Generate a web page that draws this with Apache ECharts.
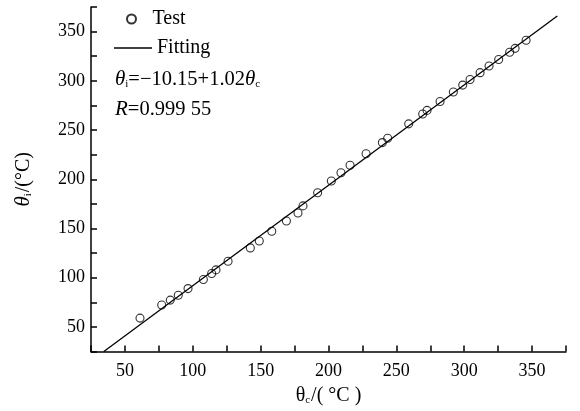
<!DOCTYPE html>
<html><head><meta charset="utf-8">
<script src="https://cdn.jsdelivr.net/npm/echarts@6/dist/echarts.min.js"></script>
<style>html,body{margin:0;padding:0;background:#fff}#c{width:580px;height:411px}</style>
</head><body><div id="c"></div>
<script>
var testX = [61.1, 77.1, 83.4, 89.3, 96.5, 107.8, 113.9, 117.1, 126, 142.4, 149, 158.2, 169, 177.5, 181.2, 192, 202.1, 209.2, 215.9, 227.7, 239.7, 243.6, 259.1, 269.4, 272.6, 282.2, 292, 298.9, 304.3, 311.7, 318.3, 325.4, 333.5, 337.5, 345.6];
var testY = [59, 72.3, 77.3, 82.3, 89, 98.3, 104.3, 108, 116.7, 130.3, 137.3, 147.3, 157.7, 165.7, 173, 186.3, 198.3, 206.7, 214.3, 226, 237.3, 241.7, 256.3, 266.3, 270, 279, 288.7, 295.7, 301.3, 308.3, 315, 321.7, 329, 333, 341.3];
var fitIntercept = -10.15;
var fitSlope = 1.02;
var fitRangeX = [34.46, 368.6];
var tickLabels = [50, 100, 150, 200, 250, 300, 350];

var F = 'Liberation Serif';
var testData = testX.map(function (x, i) { return [x, testY[i]]; });
var fitData = fitRangeX.map(function (x) { return [x, fitIntercept + fitSlope * x]; });
function fmt(v) { return tickLabels.indexOf(v) >= 0 ? String(v) : ''; }

var axisCommon = {
  min: 25, max: 375, interval: 25,
  splitLine: { show: false },
  axisLine: { lineStyle: { color: '#000', width: 1.5 } },
  axisTick: { inside: true, length: 6, lineStyle: { color: '#000', width: 1.5 } },
  axisLabel: { color: '#000', fontFamily: F, fontSize: 18, formatter: fmt }
};

var chart = echarts.init(document.getElementById('c'), null, { renderer: 'canvas' });
chart.setOption({
  animation: false,
  backgroundColor: '#fff',
  grid: { left: 91, right: 14, top: 7, bottom: 54, containLabel: false },
  xAxis: Object.assign({}, axisCommon, {
    type: 'value',
    name: '{t|θ}{s|c}{t|/( °C )}',
    nameLocation: 'middle', nameGap: 32,
    nameTextStyle: { rich: {
      t: { fontFamily: F, fontSize: 20, color: '#000' },
      s: { fontFamily: F, fontSize: 11, color: '#000', verticalAlign: 'bottom', padding: [10, 1, 0, 0] }
    } },
    axisLabel: Object.assign({}, axisCommon.axisLabel, { margin: 11 })
  }),
  yAxis: Object.assign({}, axisCommon, {
    type: 'value',
    name: '{i|θ}{s|i}{t|/(°C)}',
    nameLocation: 'middle', nameGap: 57,
    nameTextStyle: { rich: {
      i: { fontFamily: F, fontSize: 21, fontStyle: 'italic', color: '#000' },
      t: { fontFamily: F, fontSize: 20, color: '#000' },
      s: { fontFamily: F, fontSize: 11, color: '#000', verticalAlign: 'bottom', padding: [10, 1, 0, 0] }
    } },
    axisLabel: Object.assign({}, axisCommon.axisLabel, { margin: 6, padding: [3, 0, 0, 0] })
  }),
  legend: [
    { data: ['Test'], left: 126, top: 9, itemWidth: 32, itemHeight: 9, padding: 0,
      textStyle: { fontFamily: F, fontSize: 20, color: '#000' } },
    { data: [{ name: 'Fitting', icon: 'rect' }], left: 114, top: 38, itemWidth: 38, itemHeight: 1.4, padding: 0,
      textStyle: { fontFamily: F, fontSize: 20, color: '#000' } }
  ],
  graphic: [
    { type: 'text', left: 115, top: 69, style: {
      text: '{i|θ}{s|i}{t|=−10.15+1.02}{i|θ}{s|c}',
      rich: {
        i: { fontFamily: F, fontSize: 21, fontStyle: 'italic', fill: '#000' },
        t: { fontFamily: F, fontSize: 20.5, fill: '#000' },
        s: { fontFamily: F, fontSize: 11, fill: '#000', verticalAlign: 'bottom', padding: [10, 0, 0, 0] }
      } } },
    { type: 'text', left: 115, top: 99, style: {
      text: '{i|R}{t|=0.999 55}',
      rich: {
        i: { fontFamily: F, fontSize: 21, fontStyle: 'italic', fill: '#000' },
        t: { fontFamily: F, fontSize: 20.5, fill: '#000' }
      } } }
  ],
  series: [
    { name: 'Fitting', type: 'line', data: fitData, symbol: 'none', showSymbol: false,
      lineStyle: { color: '#000', width: 1.3 }, itemStyle: { color: '#000' }, z: 2 },
    { name: 'Test', type: 'scatter', data: testData, symbol: 'circle', symbolSize: 8,
      itemStyle: { color: 'rgba(255,255,255,0)', borderColor: '#000', borderWidth: 1.1 }, z: 3 }
  ]
});
</script></body></html>
